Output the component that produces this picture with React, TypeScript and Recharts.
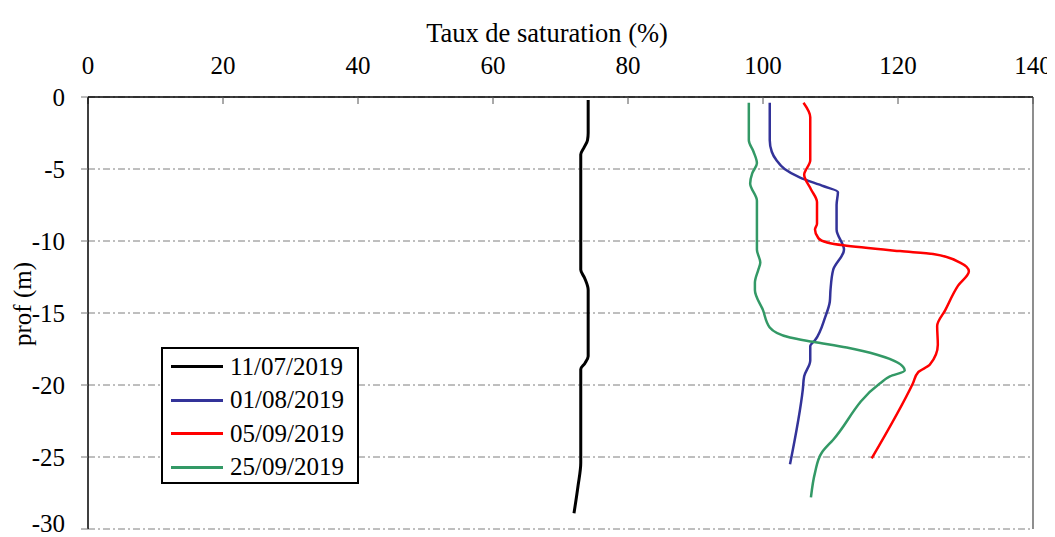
import React from 'react';
import {
  LineChart,
  Line,
  XAxis,
  YAxis,
  CartesianGrid,
  ReferenceLine,
  Label,
} from 'recharts';

// profondeurs (m) et taux de saturation (%)
const depth1107 = [-0.2, -2.5, -3.0, -3.5, -4.0, -8.0, -12.0, -12.6, -13.4, -16.0, -18.0, -18.5, -18.9, -22.0, -25.4, -27.0, -28.9];
const sat1107 = [74.1, 74.1, 74.0, 73.5, 73.0, 73.0, 73.0, 73.6, 74.1, 74.1, 74.1, 73.6, 73.0, 73.0, 73.0, 72.6, 72.0];

const depth0108 = [-0.4, -3.0, -3.8, -4.4, -5.0, -5.6, -6.2, -6.6, -7.5, -9.2, -10.6, -12.0, -13.4, -14.2, -15.3, -16.9, -17.3, -18.3, -19.4, -20.3, -25.5];
const sat0108 = [101.0, 101.0, 101.3, 102.0, 103.2, 105.5, 109.0, 111.1, 110.9, 110.9, 112.0, 110.4, 110.0, 109.9, 109.2, 107.7, 107.0, 107.0, 106.1, 105.9, 104.0];

const depth0509 = [-0.4, -1.4, -4.4, -5.4, -6.4, -7.3, -8.8, -9.2, -9.8, -10.1, -10.3, -10.7, -10.9, -11.5, -12.1, -13.1, -14.8, -15.9, -17.2, -18.6, -19.1, -19.9, -25.1];
const sat0509 = [106.0, 107.0, 107.0, 106.1, 107.1, 108.0, 108.0, 107.7, 108.2, 109.5, 111.9, 120.3, 125.2, 129.2, 130.5, 128.9, 127.0, 125.8, 125.9, 124.7, 123.0, 122.2, 116.1];

const depth2509 = [-0.4, -3.0, -3.8, -4.6, -5.3, -6.0, -7.2, -10.6, -11.5, -12.0, -12.9, -13.4, -14.8, -16.0, -16.7, -17.0, -17.4, -17.9, -19.0, -19.4, -19.9, -23.8, -24.7, -26.1, -27.8];
const sat2509 = [97.9, 97.9, 98.6, 99.1, 98.4, 98.1, 99.1, 99.1, 99.6, 99.3, 98.8, 98.8, 100.0, 101.0, 104.0, 107.4, 112.4, 116.9, 121.0, 118.8, 117.3, 110.4, 108.7, 107.7, 107.1];

const xTicks = [0, 20, 40, 60, 80, 100, 120, 140];
const yTicks = [0, -5, -10, -15, -20, -25, -30];

const toPoints = (depths: number[], values: number[]) =>
  depths.map((d, i) => ({ depth: d, sat: values[i] }));

const series = [
  { name: '11/07/2019', color: '#000000', width: 3, data: toPoints(depth1107, sat1107) },
  { name: '01/08/2019', color: '#333399', width: 2.5, data: toPoints(depth0108, sat0108) },
  { name: '05/09/2019', color: '#FF0000', width: 2.5, data: toPoints(depth0509, sat0509) },
  { name: '25/09/2019', color: '#339966', width: 2.5, data: toPoints(depth2509, sat2509) },
];

const FONT = '"Liberation Serif", "Times New Roman", serif';

function LegendBox() {
  return (
    <div
      style={{
        position: 'absolute',
        left: 153,
        top: 339,
        border: '2px solid #000',
        background: '#fff',
        width: 194,
        height: 132,
        paddingTop: 1,
        fontFamily: FONT,
        fontSize: 25,
        color: '#000',
      }}
    >
      {series.map((s) => (
        <div key={s.name} style={{ display: 'flex', alignItems: 'center', height: 33.5 }}>
          <div style={{ width: 52, height: 0, borderTop: `3px solid ${s.color}`, marginLeft: 8, marginRight: 7 }} />
          <span style={{ lineHeight: '30px' }}>{s.name}</span>
        </div>
      ))}
    </div>
  );
}

export default function App() {
  return (
    <div style={{ fontFamily: FONT, position: 'relative', width: 1047, height: 529 }}>
      <LineChart
        width={1047}
        height={529}
        layout="vertical"
        margin={{ top: 49, right: 22, bottom: 8, left: 20 }}
      >
        <CartesianGrid
          vertical={false}
          stroke="#7f7f7f"
          strokeDasharray="7 3 2 3"
        />
        <XAxis
          type="number"
          orientation="top"
          domain={[0, 140]}
          ticks={xTicks}
          height={40}
          axisLine={{ stroke: '#000', strokeWidth: 1.5 }}
          tickLine={{ stroke: '#555' }}
          tickSize={-7}
          tickMargin={30}
          tick={{ fill: '#000', fontSize: 25, fontFamily: FONT }}
        >
          <Label
            content={() => (
              <text x={539} y={34} textAnchor="middle" fill="#000" fontSize={26.5} fontFamily={FONT}>
                Taux de saturation (%)
              </text>
            )}
          />
        </XAxis>
        <YAxis
          type="number"
          dataKey="depth"
          domain={[-30, 0]}
          ticks={yTicks}
          reversed
          width={60}
          axisLine={{ stroke: '#000', strokeWidth: 1.5 }}
          tickLine={{ stroke: '#777' }}
          tickSize={7}
          tickMargin={16}
          tick={{ fill: '#000', fontSize: 25, fontFamily: FONT }}
        >
          <Label
            content={() => (
              <text
                x={14}
                y={296}
                transform="rotate(-90 14 296)"
                textAnchor="middle"
                dominantBaseline="central"
                fill="#000"
                fontSize={25}
                fontFamily={FONT}
              >
                prof (m)
              </text>
            )}
          />
        </YAxis>
        <ReferenceLine x={140} stroke="#444" strokeWidth={1.2} />
        {series.map((s) => (
          <Line
            key={s.name}
            data={s.data}
            dataKey="sat"
            name={s.name}
            type="monotone"
            stroke={s.color}
            strokeWidth={s.width}
            dot={false}
            activeDot={false}
            isAnimationActive={false}
          />
        ))}
      </LineChart>
      <LegendBox />
    </div>
  );
}
